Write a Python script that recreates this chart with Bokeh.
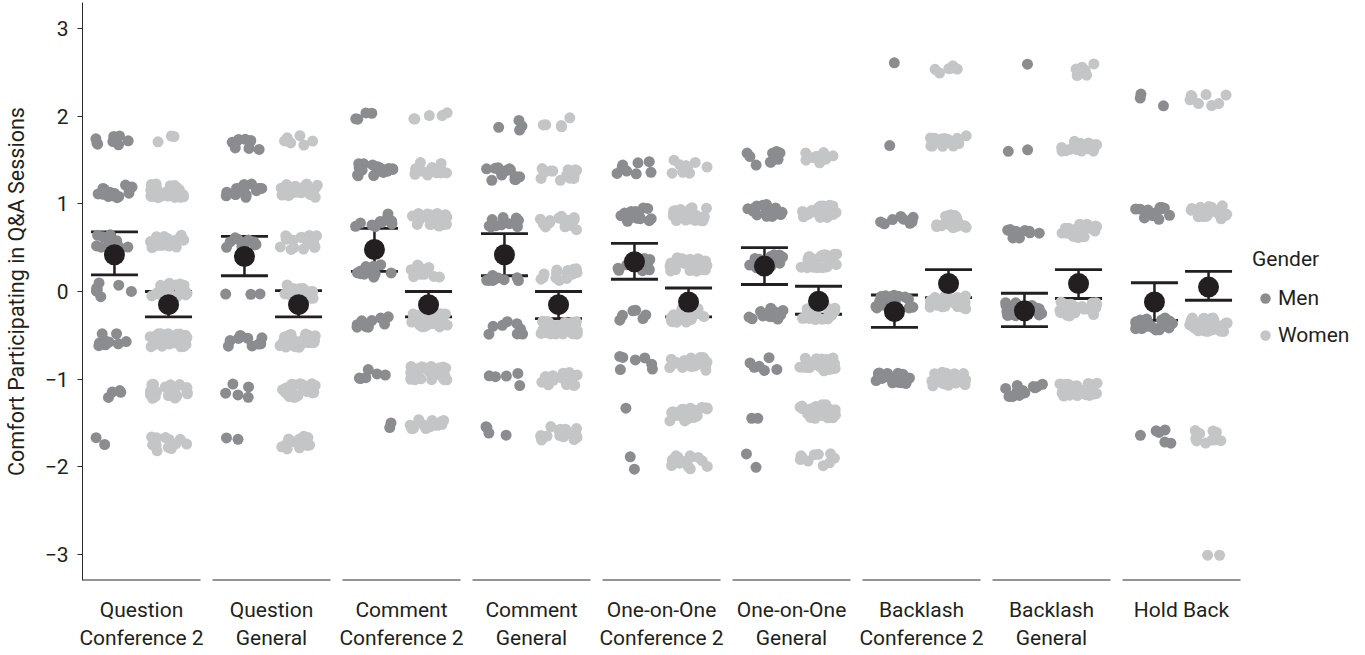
from bokeh.plotting import figure
from bokeh.models import (ColumnDataSource, Range1d, FixedTicker, Whisker, TeeHead,
                          Legend, LegendItem)
from bokeh.transform import jitter
from bokeh.embed import file_html
from bokeh.resources import INLINE

# ---------------- data ----------------
categories = ["Question\nConference 2", "Question\nGeneral", "Comment\nConference 2",
              "Comment\nGeneral", "One-on-One\nConference 2", "One-on-One\nGeneral",
              "Backlash\nConference 2", "Backlash\nGeneral", "Hold Back"]

# score levels (per panel) and number of respondents at each level
levels_1 = [1.72, 1.15, 0.57, 0.02, -0.56, -1.14, -1.74]
men_n_1 = [8, 20, 10, 7, 10, 4, 2]
women_n_1 = [3, 35, 20, 20, 35, 25, 15]

levels_2 = [1.70, 1.15, 0.56, 0.00, -0.56, -1.13, -1.72]
men_n_2 = [9, 18, 12, 3, 10, 5, 2]
women_n_2 = [7, 30, 18, 25, 35, 30, 12]

levels_3 = [2.00, 1.40, 0.82, 0.24, -0.33, -0.93, -1.53]
men_n_3 = [4, 22, 10, 12, 10, 6, 2]
women_n_3 = [5, 15, 22, 10, 35, 35, 15]

levels_4 = [1.92, 1.34, 0.78, 0.20, -0.42, -1.00, -1.62]
men_n_4 = [4, 14, 10, 8, 8, 5, 4]
women_n_4 = [5, 14, 18, 15, 40, 30, 18]

levels_5 = [1.42, 0.88, 0.31, -0.27, -0.82, -1.40, -1.95]
men_n_5 = [8, 16, 14, 6, 7, 1, 2]
women_n_5 = [12, 30, 30, 25, 20, 25, 15]

levels_6 = [1.52, 0.92, 0.35, -0.25, -0.83, -1.37, -1.93]
men_n_6 = [9, 16, 14, 14, 6, 2, 2]
women_n_6 = [8, 25, 30, 20, 25, 30, 10]

levels_7 = [2.57, 1.70, 0.80, -0.12, -1.00]
men_n_7 = [1, 1, 8, 22, 18]
women_n_7 = [6, 18, 22, 35, 35]

levels_8 = [2.53, 1.64, 0.69, -0.20, -1.12]
men_n_8 = [1, 2, 12, 22, 14]
women_n_8 = [6, 15, 22, 40, 30]

levels_9 = [2.18, 0.90, -0.38, -1.66, -2.95]
men_n_9 = [3, 12, 28, 6, 0]
women_n_9 = [8, 30, 45, 12, 2]

# means and confidence limits
men_mean = [0.42, 0.40, 0.48, 0.42, 0.34, 0.29, -0.23, -0.22, -0.12]
men_hi = [0.68, 0.63, 0.72, 0.66, 0.55, 0.50, -0.04, -0.02, 0.10]
men_lo = [0.19, 0.18, 0.23, 0.18, 0.14, 0.08, -0.41, -0.40, -0.33]
women_mean = [-0.15, -0.15, -0.15, -0.15, -0.12, -0.11, 0.09, 0.09, 0.05]
women_hi = [0.00, 0.01, 0.00, 0.00, 0.04, 0.06, 0.25, 0.25, 0.23]
women_lo = [-0.29, -0.29, -0.29, -0.31, -0.29, -0.26, -0.07, -0.08, -0.10]

levels = [levels_1, levels_2, levels_3, levels_4, levels_5, levels_6, levels_7, levels_8, levels_9]
men_counts = [men_n_1, men_n_2, men_n_3, men_n_4, men_n_5, men_n_6, men_n_7, men_n_8, men_n_9]
women_counts = [women_n_1, women_n_2, women_n_3, women_n_4, women_n_5, women_n_6, women_n_7,
                women_n_8, women_n_9]

# ---------------- layout constants ----------------
FONT = "Roboto"
FS = "21px"
INK = "#231f20"
AXC = "#2b2b2b"
MEN_C = "#8b8c90"
WOMEN_C = "#c4c5c7"
PANEL_PX = 130          # panel pitch in pixels
FRAME_W = 1272
GAP = 12 / PANEL_PX
HALF = 0.5 - GAP / 2
DODGE = 0.208
npan = len(categories)


def expand(counts_list, offset):
    xs, ys = [], []
    for k, (lv, cn) in enumerate(zip(levels, counts_list)):
        for y, n in zip(lv, cn):
            xs += [k + offset] * n
            ys += [y] * n
    return dict(x=xs, y=ys)


men_src = ColumnDataSource(expand(men_counts, -DODGE))
women_src = ColumnDataSource(expand(women_counts, DODGE))

p = figure(frame_width=FRAME_W, frame_height=578,
           x_range=Range1d(-HALF, -HALF + FRAME_W / PANEL_PX),
           y_range=Range1d(-3.3, 3.3), output_backend="svg", toolbar_location=None,
           min_border_left=75, min_border_right=2, min_border_top=2, min_border_bottom=58)
p.outline_line_color = None
p.grid.grid_line_color = None
p.background_fill_color = "white"

r_men = p.scatter(jitter("x", width=0.29), jitter("y", width=0.16), source=men_src,
                  size=11, fill_color=MEN_C, line_color=None)
r_women = p.scatter(jitter("x", width=0.29), jitter("y", width=0.16), source=women_src,
                    size=11, fill_color=WOMEN_C, line_color=None)

# per-panel bottom axis lines
ystart = p.y_range.start
p.segment(x0=[k - HALF for k in range(npan)], x1=[k + HALF for k in range(npan)],
          y0=[ystart] * npan, y1=[ystart] * npan, line_color=AXC, line_width=2)

stat_src = ColumnDataSource(dict(
    x=[k - DODGE for k in range(npan)] + [k + DODGE for k in range(npan)],
    mean=men_mean + women_mean, hi=men_hi + women_hi, lo=men_lo + women_lo))

wh = Whisker(source=stat_src, base="x", upper="hi", lower="lo", dimension="height",
             line_color=INK, line_width=2.5,
             upper_head=TeeHead(size=47, line_color=INK, line_width=2.8),
             lower_head=TeeHead(size=47, line_color=INK, line_width=2.8))
p.add_layout(wh)
p.scatter("x", "mean", source=stat_src, size=21, fill_color=INK, line_color=None)

# x axis
xa = p.xaxis[0]
xa.ticker = FixedTicker(ticks=list(range(npan)))
xa.major_label_overrides = {k: c for k, c in enumerate(categories)}
xa.axis_line_color = None
xa.major_tick_line_color = None
xa.minor_tick_line_color = None
xa.major_label_standoff = 11
xa.major_label_text_font = FONT
xa.major_label_text_font_size = FS
xa.major_label_text_color = INK
xa.major_label_text_line_height = 1.2

# y axis
ya = p.yaxis[0]
yt = [-3, -2, -1, 0, 1, 2, 3]
ya.ticker = FixedTicker(ticks=yt)
ya.major_label_overrides = {t: str(t).replace("-", "\u2212") for t in yt}
ya.minor_tick_line_color = None
ya.major_tick_in = 0
ya.major_tick_out = 5
ya.major_tick_line_color = AXC
ya.axis_line_color = AXC
ya.major_label_standoff = 9
ya.major_label_text_font = FONT
ya.major_label_text_font_size = FS
ya.major_label_text_color = INK
ya.axis_label = "Comfort Participating in Q&A Sessions"
ya.axis_label_text_font = FONT
ya.axis_label_text_font_size = "21.5px"
ya.axis_label_text_font_style = "normal"
ya.axis_label_text_color = INK
ya.axis_label_standoff = 13

legend = Legend(items=[LegendItem(label="Men", renderers=[r_men]),
                       LegendItem(label="Women", renderers=[r_women])],
                title="Gender", location=(1170, 232))
legend.title_text_font = FONT
legend.title_text_font_size = FS
legend.title_text_font_style = "normal"
legend.title_text_color = INK
legend.title_standoff = 14
legend.label_text_font = FONT
legend.label_text_font_size = FS
legend.label_text_color = INK
legend.glyph_width = 26
legend.glyph_height = 26
legend.label_height = 26
legend.label_standoff = 0
legend.spacing = 11
legend.padding = 4
legend.margin = 0
legend.border_line_color = None
legend.background_fill_alpha = 0
p.add_layout(legend)

open("out.html", "w").write(file_html(p, INLINE))
